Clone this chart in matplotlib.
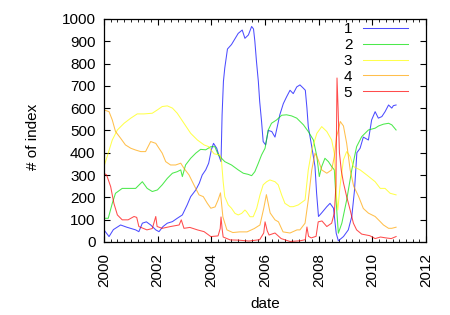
import matplotlib
matplotlib.use("Agg")
import matplotlib.pyplot as plt
from matplotlib.ticker import MultipleLocator

plt.rcParams['font.family'] = ['Liberation Sans', 'DejaVu Sans']
plt.rcParams['font.size'] = 11

# series 1 (blue)
t1 = [2000.0, 2000.19, 2000.35, 2000.62, 2000.85, 2001.18, 2001.3, 2001.43, 2001.58, 2001.74,
      2001.93, 2002.05, 2002.2, 2002.36, 2002.55, 2002.73, 2002.92, 2003.1, 2003.23, 2003.42,
      2003.55, 2003.66, 2003.79, 2003.9, 2004.0, 2004.08, 2004.2, 2004.3, 2004.36, 2004.4,
      2004.45, 2004.5, 2004.6, 2004.75, 2004.9, 2005.0, 2005.15, 2005.25, 2005.38, 2005.5,
      2005.57, 2005.62, 2005.68, 2005.75, 2005.8, 2005.87, 2005.93, 2006.02, 2006.12, 2006.25,
      2006.37, 2006.47, 2006.55, 2006.68, 2006.8, 2006.93, 2007.05, 2007.18, 2007.3, 2007.42,
      2007.5, 2007.56, 2007.61, 2007.74, 2007.86, 2007.92, 2007.99, 2008.1, 2008.3, 2008.42,
      2008.55, 2008.65, 2008.73, 2008.92, 2009.1, 2009.23, 2009.33, 2009.42, 2009.54, 2009.66,
      2009.85, 2009.97, 2010.1, 2010.22, 2010.35, 2010.47, 2010.6, 2010.72, 2010.78, 2010.88]
v1 = [54, 24, 55, 76, 66, 54, 46, 84, 90, 76,
      54, 46, 69, 84, 91, 106, 121, 166, 203, 233,
      263, 300, 323, 353, 413, 442, 420, 380, 360, 570,
      720, 780, 865, 885, 915, 935, 950, 913, 928, 966,
      955, 900, 810, 720, 630, 540, 450, 435, 500, 495,
      470, 525, 570, 620, 650, 680, 665, 695, 704, 690,
      680, 600, 517, 427, 338, 218, 114, 129, 158, 173,
      151, 39, 5, 24, 54, 114, 230, 400, 420, 470,
      457, 547, 584, 555, 562, 584, 614, 600, 611, 614]

# series 2 (green)
t2 = [2000.0, 2000.16, 2000.31, 2000.43, 2000.68, 2000.9, 2001.18, 2001.43, 2001.61, 2001.8,
      2001.99, 2002.17, 2002.36, 2002.55, 2002.73, 2002.86, 2002.92, 2003.04, 2003.23, 2003.42,
      2003.6, 2003.79, 2003.98, 2004.13, 2004.26, 2004.38, 2004.5, 2004.75, 2005.0, 2005.19,
      2005.37, 2005.5, 2005.62, 2005.75, 2005.87, 2006.0, 2006.12, 2006.24, 2006.43, 2006.62,
      2006.8, 2006.99, 2007.18, 2007.43, 2007.61, 2007.8, 2007.93, 2008.02, 2008.11, 2008.23,
      2008.36, 2008.48, 2008.58, 2008.67, 2008.73, 2008.86, 2009.04, 2009.23, 2009.41, 2009.6,
      2009.85, 2010.1, 2010.23, 2010.41, 2010.6, 2010.72, 2010.88]
v2 = [106, 106, 173, 218, 240, 240, 240, 270, 240, 226,
      233, 256, 285, 308, 315, 323, 293, 345, 375, 398,
      415, 413, 427, 427, 390, 375, 360, 345, 323, 308,
      303, 297, 315, 353, 390, 420, 502, 532, 547, 568,
      570, 565, 555, 525, 495, 457, 383, 293, 338, 375,
      360, 338, 323, 143, 39, 84, 188, 323, 427, 472,
      502, 510, 520, 528, 532, 525, 502]

# series 3 (yellow)
t3 = [2000.0, 2000.12, 2000.31, 2000.5, 2000.75, 2001.0, 2001.24, 2001.49, 2001.8, 2001.99,
      2002.17, 2002.36, 2002.55, 2002.73, 2002.98, 2003.23, 2003.48, 2003.73, 2003.9, 2004.1,
      2004.32, 2004.38, 2004.44, 2004.5, 2004.63, 2004.75, 2004.88, 2005.0, 2005.13, 2005.25,
      2005.31, 2005.44, 2005.56, 2005.69, 2005.81, 2005.93, 2006.06, 2006.18, 2006.37, 2006.49,
      2006.62, 2006.74, 2006.93, 2007.05, 2007.24, 2007.49, 2007.61, 2007.74, 2007.93, 2008.11,
      2008.3, 2008.48, 2008.58, 2008.65, 2008.71, 2008.79, 2008.92, 2009.04, 2009.17, 2009.29,
      2009.54, 2009.79, 2010.1, 2010.29, 2010.47, 2010.66, 2010.88]
v3 = [338, 383, 457, 502, 532, 555, 574, 574, 577, 592,
      607, 610, 600, 577, 532, 487, 457, 435, 427, 395,
      390, 360, 270, 203, 166, 151, 128, 121, 128, 143,
      136, 113, 113, 151, 210, 256, 270, 278, 270, 256,
      210, 173, 158, 158, 166, 188, 323, 412, 487, 517,
      495, 457, 397, 218, 143, 248, 368, 405, 383, 338,
      323, 300, 270, 240, 240, 218, 211]

# series 4 (orange)
t4 = [2000.0, 2000.19, 2000.31, 2000.43, 2000.62, 2000.8, 2001.0, 2001.18, 2001.37, 2001.55,
      2001.74, 2001.93, 2002.05, 2002.17, 2002.3, 2002.48, 2002.67, 2002.86, 2002.98, 2003.17,
      2003.35, 2003.54, 2003.7, 2003.85, 2003.98, 2004.14, 2004.25, 2004.34, 2004.43, 2004.58,
      2004.8, 2005.05, 2005.33, 2005.6, 2005.81, 2005.95, 2006.05, 2006.19, 2006.37, 2006.5,
      2006.67, 2006.93, 2007.19, 2007.3, 2007.49, 2007.61, 2007.74, 2007.86, 2007.98, 2008.11,
      2008.3, 2008.48, 2008.58, 2008.66, 2008.73, 2008.8, 2008.92, 2009.04, 2009.17, 2009.3,
      2009.48, 2009.66, 2009.85, 2010.1, 2010.29, 2010.41, 2010.6, 2010.72, 2010.88]
v4 = [592, 584, 547, 495, 465, 435, 420, 412, 405, 405,
      450, 442, 420, 398, 360, 345, 345, 353, 330, 300,
      256, 211, 203, 173, 151, 157, 188, 220, 112, 54,
      42, 45, 45, 60, 76, 150, 212, 130, 99, 90,
      45, 40, 54, 54, 84, 188, 323, 398, 368, 323,
      308, 323, 383, 470, 502, 540, 520, 442, 323, 250,
      205, 150, 129, 114, 91, 76, 61, 61, 66]

# series 5 (red)
t5 = [2000.0, 2000.1, 2000.25, 2000.37, 2000.5, 2000.68, 2000.9, 2001.12, 2001.22, 2001.3,
      2001.6, 2001.8, 2001.93, 2001.98, 2002.17, 2002.48, 2002.8, 2002.88, 2002.98, 2003.2,
      2003.48, 2003.73, 2003.98, 2004.25, 2004.33, 2004.36, 2004.4, 2004.44, 2004.7, 2005.0,
      2005.4, 2005.8, 2005.95, 2006.0, 2006.08, 2006.15, 2006.37, 2006.6, 2006.93, 2007.3,
      2007.5, 2007.56, 2007.62, 2007.72, 2007.9, 2007.98, 2008.12, 2008.3, 2008.48, 2008.58,
      2008.64, 2008.68, 2008.72, 2008.77, 2008.84, 2008.92, 2009.04, 2009.17, 2009.29, 2009.41,
      2009.6, 2009.9, 2010.1, 2010.3, 2010.5, 2010.7, 2010.88]
v5 = [308, 300, 248, 173, 121, 99, 99, 114, 110, 69,
      54, 60, 114, 69, 61, 69, 76, 99, 61, 65,
      54, 46, 24, 27, 60, 112, 60, 22, 9, 8,
      4, 10, 40, 90, 50, 31, 40, 15, 2, 5,
      10, 67, 25, 18, 25, 90, 94, 69, 84, 129,
      250, 735, 600, 400, 320, 265, 203, 143, 84, 54,
      35, 28, 15, 22, 18, 15, 24]

labels = ['1', '2', '3', '4', '5']
colors = ['#0000ff', '#00e000', '#ffff00', '#ffa500', '#ff0000']

fig = plt.figure(figsize=(4.5, 3.15), dpi=100)
ax = fig.add_axes([0.231, 0.232, 0.716, 0.708])

for t, v, lab, c in zip([t1, t2, t3, t4, t5], [v1, v2, v3, v4, v5], labels, colors):
    ax.plot(t, v, color=c, lw=0.75, alpha=0.7, label=lab)

ax.set_xlim(2000, 2012)
ax.set_ylim(0, 1000)
ax.xaxis.set_major_locator(MultipleLocator(2))
ax.xaxis.set_minor_locator(MultipleLocator(0.25))
ax.yaxis.set_major_locator(MultipleLocator(100))
ax.xaxis.set_major_formatter(lambda x, pos: '%d' % x)
ax.tick_params(which='both', direction='in', top=True, right=True)
ax.tick_params(which='major', length=4, width=0.8)
ax.tick_params(which='minor', length=2, width=0.6)
ax.tick_params(axis='x', which='major', pad=8, labelrotation=90)
ax.tick_params(axis='y', pad=6)
for s in ax.spines.values():
    s.set_linewidth(0.9)

ax.set_xlabel('date')
ax.set_ylabel('# of index')
ax.xaxis.set_label_coords(0.5, -0.245)
ax.yaxis.set_label_coords(-0.2, 0.47)

ax.legend(loc='upper right', bbox_to_anchor=(0.944, 0.985), frameon=False,
          markerfirst=False, handlelength=2.95, handletextpad=0.7,
          labelspacing=0.12, borderpad=0, borderaxespad=0)

fig.savefig('out.png', dpi=100)
